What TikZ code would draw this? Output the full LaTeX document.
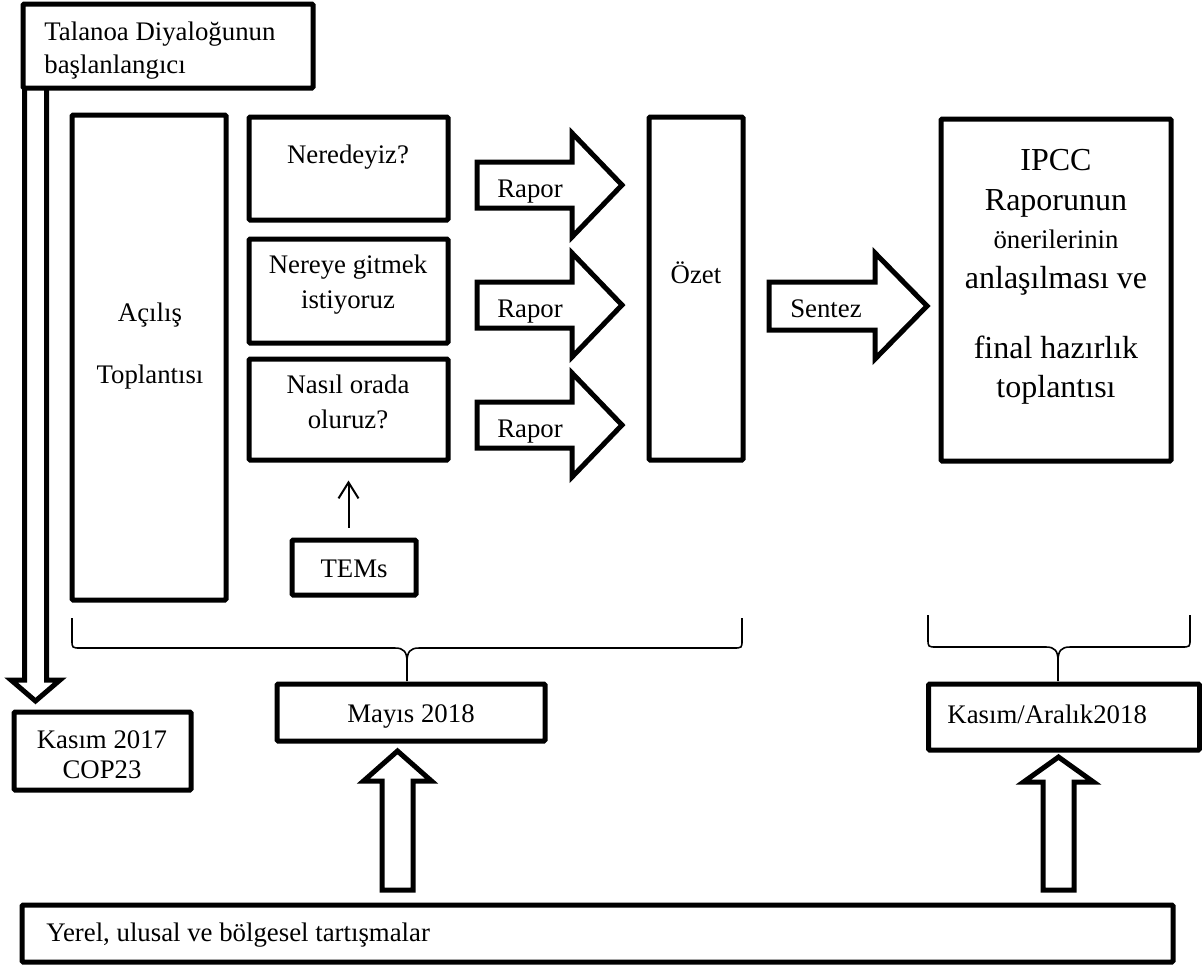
\documentclass[tikz,border=0pt]{standalone}
\usepackage{fontspec}
\setmainfont{Liberation Serif}
\usetikzlibrary{arrows.meta}
\newcommand\rblk[6]{\draw[blk] (#1,#4-#5) -- (#2,#4-#5) -- (#2,#4-#6) -- (#3,#4) -- (#2,#4+#6) -- (#2,#4+#5) -- (#1,#4+#5) -- cycle;}
\newcommand\ublk[6]{\draw[blk] (#4-#5,#1) -- (#4-#5,#2) -- (#4-#6,#2) -- (#4,#3) -- (#4+#6,#2) -- (#4+#5,#2) -- (#4+#5,#1) -- cycle;}
\newcommand\mybrace[6]{%
  \draw[bracel] (#1,#4) -- (#1,#5-8) .. controls (#1,#5) .. (#1+9,#5) -- (#3-12,#5) .. controls (#3-3,#5) and (#3,#5+4) .. (#3,#5+14) -- (#3,#6);
  \draw[bracel] (#3,#5+14) .. controls (#3,#5+4) and (#3+3,#5) .. (#3+12,#5) -- (#2-9,#5) .. controls (#2,#5) .. (#2,#5-8) -- (#2,#4);}
\begin{document}
\begin{tikzpicture}[x=0.5pt,y=-0.5pt,
  box/.style args={#1/#2}{draw, line width=2.5pt, inner sep=0pt, rounded corners=0.6pt,
    minimum width={(#1)*0.5pt}, minimum height={(#2)*0.5pt}},
  blk/.style={draw, line width=2.5pt, line join=miter, fill=white},
  bracel/.style={draw, line width=0.8pt},
  txt/.style={font=\fontsize{13.4}{16}\selectfont, inner sep=0pt, anchor=base},
  txtl/.style={txt, anchor=base west},
  big/.style={font=\fontsize{16}{19}\selectfont, inner sep=0pt, anchor=base}]
\path[use as bounding box] (0,0) rectangle (1202,966);

% boxes
\node[box=290/84] (talanoa) at (168,46) {};
\node[box=154/485] (acilis) at (149,357.5) {};
\node[box=199/103] (neredeyiz) at (348.5,168.5) {};
\node[box=199/104] (nereye) at (348.5,291) {};
\node[box=199/101] (nasil) at (348.5,409.5) {};
\node[box=124/55] (tems) at (354,567.5) {};
\node[box=94/343] (ozet) at (696,288.5) {};
\node[box=230/342] (ipcc) at (1056,290) {};
\node[box=177/78] (kasim) at (102.5,751) {};
\node[box=268/57] (mayis) at (411,712.5) {};
\node[box=271/66] (kasimaralik) at (1064,717) {};
\node[box=1151/57] (yerel) at (597.5,933.5) {};

% texts
\node[txtl] (t1) at (44,40) {Talanoa Diyaloğunun};
\node[txtl] (t2) at (44,73) {başlanlangıcı};
\node[txt] (a1) at (150,321) {Açılış};
\node[txt] (a2) at (150,383) {Toplantısı};
\node[txt] (n1) at (348,163) {Neredeyiz?};
\node[txt] (n2) at (348,273) {Nereye gitmek};
\node[txt] (n3) at (348,308) {istiyoruz};
\node[txt] (n4) at (348,393) {Nasıl orada};
\node[txt] (n5) at (348,428) {oluruz?};
\node[txt] (temst) at (354,577) {TEMs};
\node[txt] (ozt) at (696,283) {Özet};
\node[big] (i1) at (1056,170) {IPCC};
\node[big] (i2) at (1056,210) {Raporunun};
\node[txt] (i3) at (1056,248) {önerilerinin};
\node[big] (i4) at (1056,288) {anlaşılması ve};
\node[big] (i5) at (1056,358) {final hazırlık};
\node[big] (i6) at (1056,397) {toplantısı};
\node[txt] (k1) at (102,748) {Kasım 2017};
\node[txt] (k2) at (102,778) {COP23};
\node[txt] (mt) at (411,722) {Mayıs 2018};
\node[txtl] (kat) at (947,723) {Kasım/Aralık2018};
\node[txtl] (yt) at (46,941) {Yerel, ulusal ve bölgesel tartışmalar};

% block arrows
\rblk{477}{572}{622}{185}{23}{52}
\rblk{477}{572}{622}{305}{23}{52}
\rblk{477}{572}{622}{425}{23}{52}
\rblk{769}{875}{927}{306}{24}{53}
\node[txt] (r1) at (530,197) {Rapor};
\node[txt] (r2) at (530,317) {Rapor};
\node[txt] (r3) at (530,437) {Rapor};
\node[txt] (st) at (826,317) {Sentez};

\ublk{890}{781}{751}{397.5}{15.5}{34}
\ublk{890}{782}{757}{1058.5}{15.5}{35}

% left down arrow from Talanoa
\draw[blk, fill=none] (24.5,88) -- (24.5,680) -- (11,680) -- (35.5,701) -- (60,680) -- (46.5,680) -- (46.5,88);

% TEMs arrow
\draw[line width=1pt, shorten <=5pt, shorten >=9pt,
  -{Straight Barb[length=8pt,width=10pt,line width=1pt]}]
  (tems.north -| nasil.south) -- (nasil.south);

% braces
\mybrace{72}{742}{407}{618}{648}{681}
\mybrace{928}{1190}{1058}{615}{647}{681}
\end{tikzpicture}
\end{document}
